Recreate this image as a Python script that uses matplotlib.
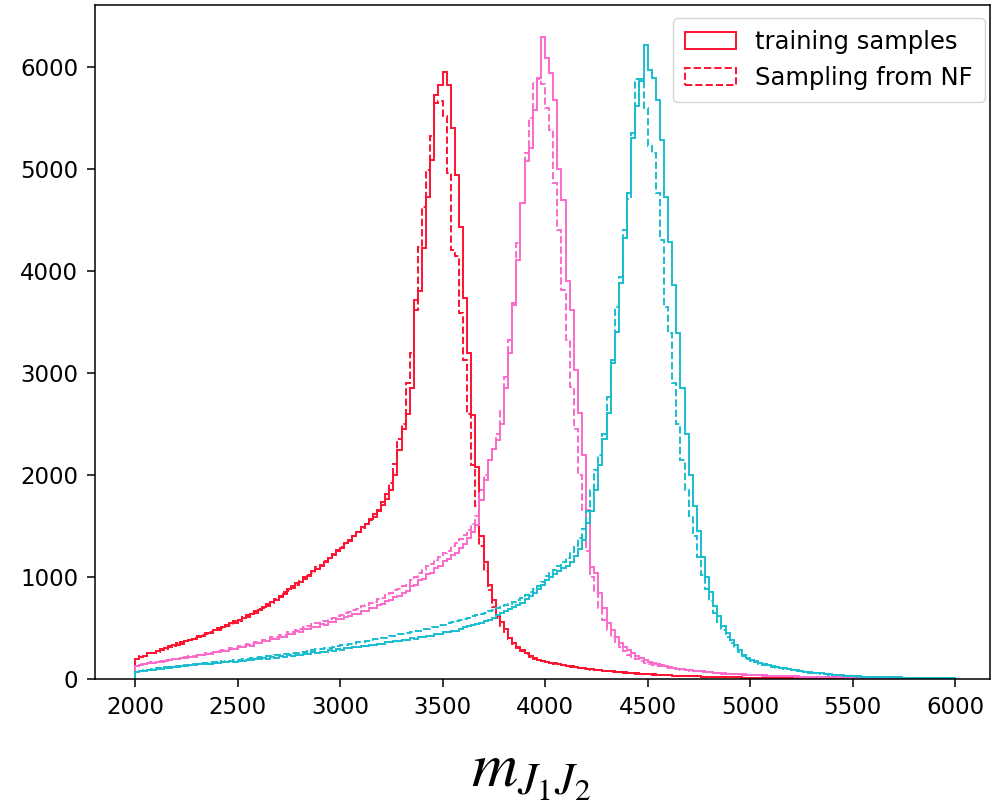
import numpy as np
import matplotlib
matplotlib.use("Agg")
import matplotlib.pyplot as plt

# Histogram binning: 200 bins of width 20 between 2000 and 6000
bin_lo, bin_hi, n_bins = 2000, 6000, 200

# Counts per bin, mass point at 3500
red_train = [
    200, 218, 230, 252, 255, 276, 285, 305, 309, 336,
    334, 361, 368, 384, 396, 418, 424, 448, 452, 481,
    484, 512, 515, 548, 549, 580, 594, 628, 633, 667,
    674, 708, 719, 757, 772, 818, 832, 878, 893, 937,
    952, 998, 1006, 1055, 1077, 1114, 1146, 1184, 1216, 1264,
    1285, 1335, 1355, 1405, 1436, 1485, 1516, 1568, 1592, 1650,
    1702, 1761, 1852, 2003, 2248, 2452, 2601, 2853, 3716, 3802,
    4225, 4728, 5088, 5725, 5823, 5948, 5823, 5400, 4941, 4434,
    3735, 3196, 2588, 2082, 1402, 1150, 921, 778, 622, 561,
    489, 402, 351, 309, 281, 252, 224, 206, 191, 179,
    170, 161, 154, 149, 141, 131, 124, 118, 112, 106,
    100, 95, 91, 86, 82, 78, 75, 71, 68, 65,
    62, 58, 55, 52, 50, 47, 45, 42, 40, 38,
    36, 34, 32, 30, 29, 27, 26, 25, 24, 22,
    21, 20, 19, 18, 17, 16, 15, 15, 14, 13,
    13, 12, 12, 11, 11, 10, 10, 9, 9, 9,
    8, 8, 8, 7, 7, 7, 6, 6, 6, 6,
    5, 5, 5, 5, 4, 4, 4, 4, 4, 3,
    3, 3, 3, 3, 3, 3, 2, 2, 2, 2,
    2, 2, 2, 2, 2, 2, 1, 1, 1, 1,
]
red_nf = [
    195, 226, 224, 256, 258, 264, 296, 294, 322, 320,
    350, 348, 374, 380, 401, 412, 431, 442, 460, 476,
    497, 498, 530, 533, 564, 566, 608, 612, 650, 651,
    690, 692, 735, 741, 788, 802, 849, 862, 911, 920,
    969, 982, 1024, 1038, 1095, 1107, 1152, 1178, 1223, 1258,
    1292, 1326, 1363, 1398, 1442, 1478, 1524, 1560, 1616, 1656,
    1730, 1812, 1925, 2110, 2350, 2500, 2900, 3196, 3618, 4238,
    4630, 4990, 5317, 5647, 5660, 5513, 4960, 4206, 4150, 3588,
    3127, 2600, 2100, 1700, 1300, 1060, 870, 705, 598, 520,
    455, 392, 340, 302, 270, 246, 220, 200, 186, 174,
    164, 156, 150, 143, 136, 127, 120, 114, 108, 102,
    97, 92, 88, 84, 80, 76, 72, 69, 66, 63,
    60, 56, 54, 50, 48, 46, 43, 41, 39, 37,
    35, 33, 31, 30, 28, 26, 25, 24, 23, 21,
    20, 19, 18, 17, 16, 16, 15, 14, 13, 13,
    12, 12, 11, 11, 10, 10, 9, 9, 9, 8,
    8, 8, 7, 7, 7, 6, 6, 6, 6, 5,
    5, 5, 5, 4, 4, 4, 4, 4, 3, 3,
    3, 3, 3, 3, 3, 2, 2, 2, 2, 2,
    2, 2, 2, 2, 2, 1, 1, 1, 1, 1,
]

# Mass point at 4000
pink_train = [
    132, 141, 146, 159, 155, 169, 168, 181, 183, 192,
    193, 205, 204, 220, 217, 233, 232, 248, 247, 263,
    262, 279, 276, 294, 291, 311, 309, 331, 328, 351,
    349, 371, 369, 396, 394, 416, 414, 441, 439, 466,
    464, 487, 489, 511, 514, 536, 534, 561, 559, 586,
    584, 611, 614, 636, 639, 666, 669, 696, 699, 727,
    734, 766, 774, 806, 813, 847, 863, 907, 923, 966,
    983, 1027, 1043, 1087, 1103, 1157, 1173, 1217, 1233, 1287,
    1328, 1382, 1438, 1512, 1750, 1950, 2147, 2250, 2343, 2500,
    2853, 3196, 3667, 4108, 4667, 5072, 5200, 5578, 5889, 6291,
    6085, 5938, 5676, 5000, 4696, 3900, 3618, 3030, 2608, 2200,
    1657, 1100, 1040, 843, 700, 549, 480, 412, 353, 310,
    284, 255, 230, 205, 186, 170, 155, 145, 135, 125,
    118, 110, 103, 97, 92, 87, 82, 78, 74, 70,
    66, 63, 60, 57, 54, 51, 49, 47, 45, 43,
    41, 39, 37, 35, 34, 32, 31, 29, 28, 27,
    26, 25, 24, 23, 22, 21, 20, 19, 18, 18,
    17, 16, 16, 15, 14, 14, 13, 13, 12, 12,
    11, 11, 10, 10, 10, 9, 9, 9, 8, 8,
    8, 7, 7, 7, 7, 6, 6, 6, 6, 5,
]
pink_nf = [
    128, 145, 144, 162, 160, 171, 173, 184, 186, 199,
    196, 210, 211, 223, 226, 237, 240, 252, 256, 269,
    270, 284, 287, 300, 303, 319, 321, 339, 342, 361,
    364, 383, 386, 408, 413, 431, 435, 458, 463, 485,
    490, 509, 517, 537, 545, 564, 570, 593, 598, 622,
    627, 651, 659, 681, 690, 715, 724, 748, 759, 784,
    797, 826, 840, 869, 883, 913, 935, 975, 998, 1041,
    1066, 1105, 1125, 1166, 1195, 1235, 1258, 1301, 1329, 1371,
    1412, 1458, 1522, 1600, 1850, 2000, 2150, 2250, 2400, 2637,
    2960, 3320, 3686, 4275, 4667, 5157, 5500, 5850, 5880, 5830,
    5600, 5380, 4860, 4400, 3810, 3320, 2860, 2450, 2000, 1650,
    1250, 1000, 850, 700, 580, 480, 410, 360, 310, 270,
    240, 215, 195, 175, 160, 150, 140, 131, 123, 116,
    109, 103, 97, 92, 87, 83, 78, 74, 71, 67,
    63, 60, 57, 54, 52, 49, 47, 45, 43, 41,
    39, 37, 35, 34, 32, 31, 29, 28, 27, 26,
    25, 24, 23, 22, 21, 20, 19, 18, 17, 17,
    16, 15, 15, 14, 13, 13, 12, 12, 11, 11,
    11, 10, 10, 9, 9, 9, 8, 8, 8, 7,
    7, 7, 7, 6, 6, 6, 6, 5, 5, 5,
]

# Mass point at 4500
cyan_train = [
    68, 82, 83, 92, 93, 104, 101, 114, 110, 120,
    118, 127, 128, 137, 136, 144, 143, 150, 150, 159,
    154, 166, 163, 172, 170, 179, 176, 187, 184, 196,
    192, 204, 201, 214, 210, 222, 218, 232, 228, 240,
    236, 249, 246, 260, 256, 269, 266, 280, 278, 292,
    289, 302, 300, 314, 312, 324, 322, 336, 334, 348,
    346, 360, 358, 372, 371, 384, 384, 399, 396, 412,
    411, 426, 426, 442, 441, 456, 456, 472, 472, 489,
    509, 521, 529, 541, 549, 566, 579, 601, 624, 646,
    664, 686, 704, 726, 749, 781, 809, 841, 879, 921,
    969, 1001, 1029, 1061, 1089, 1112, 1149, 1201, 1279, 1362,
    1526, 1650, 1850, 2100, 2350, 2608, 3098, 3402, 3882, 4324,
    4765, 5300, 5611, 5856, 6216, 5970, 5890, 5676, 5284, 4728,
    4287, 3863, 3392, 2853, 2400, 2000, 1700, 1450, 1200, 1000,
    850, 720, 620, 520, 450, 380, 330, 280, 240, 210,
    190, 175, 160, 145, 135, 125, 118, 110, 105, 100,
    90, 85, 78, 72, 66, 62, 58, 55, 50, 45,
    42, 38, 35, 32, 30, 28, 26, 24, 22, 21,
    20, 19, 18, 17, 16, 15, 15, 14, 13, 13,
    12, 12, 11, 11, 10, 10, 10, 9, 9, 9,
]
cyan_nf = [
    72, 80, 90, 90, 101, 100, 111, 109, 121, 118,
    130, 127, 139, 137, 147, 146, 155, 154, 164, 162,
    172, 170, 180, 178, 189, 187, 197, 196, 206, 205,
    216, 215, 226, 225, 236, 236, 247, 247, 258, 258,
    269, 269, 281, 281, 293, 293, 305, 306, 318, 319,
    332, 332, 345, 346, 359, 360, 374, 375, 389, 390,
    404, 406, 420, 422, 437, 439, 454, 457, 472, 475,
    490, 494, 509, 513, 529, 533, 549, 554, 571, 576,
    590, 602, 614, 626, 638, 651, 664, 678, 692, 706,
    722, 739, 757, 776, 797, 822, 850, 880, 912, 948,
    1005, 1040, 1072, 1110, 1150, 1190, 1240, 1300, 1380, 1470,
    1650, 1850, 2050, 2200, 2400, 2768, 3127, 3650, 3944, 4400,
    4700, 5350, 5880, 5880, 5600, 5219, 5150, 4765, 4304, 3650,
    3392, 2900, 2500, 2150, 1850, 1600, 1400, 1200, 1020, 880,
    760, 650, 560, 480, 410, 350, 300, 260, 225, 200,
    180, 165, 152, 140, 130, 120, 112, 105, 99, 94,
    86, 80, 74, 68, 63, 59, 55, 51, 47, 43,
    40, 36, 33, 30, 28, 26, 24, 23, 21, 20,
    19, 18, 17, 16, 15, 14, 14, 13, 12, 12,
    11, 11, 10, 10, 10, 9, 9, 9, 8, 8,
]

series = [
    ("#ff1230", red_train, red_nf),
    ("#fb6acb", pink_train, pink_nf),
    ("#17becf", cyan_train, cyan_nf),
]

plt.rcParams["mathtext.fontset"] = "stix"

edges = np.linspace(bin_lo, bin_hi, n_bins + 1)
centers = 0.5 * (edges[:-1] + edges[1:])

fig = plt.figure(figsize=(9.92, 8.10), dpi=100)
ax = fig.add_axes([0.0958, 0.1617, 0.9022, 0.8321])

for k, (color, train, nf) in enumerate(series):
    ax.hist(centers, bins=edges, weights=train, histtype="step",
            color=color, lw=1.4, linestyle="-",
            label="training samples" if k == 0 else None)
    ax.hist(centers, bins=edges, weights=nf, histtype="step",
            color=color, lw=1.4, linestyle="--",
            label="Sampling from NF" if k == 0 else None)

ax.set_xlim(1805, 6170)
ax.set_ylim(0, 6605)
ax.set_xticks(np.arange(2000, 6001, 500))
ax.set_yticks(np.arange(0, 6001, 1000))
ax.tick_params(labelsize=16.5, length=6, width=1.1, pad=6)
for s in ax.spines.values():
    s.set_linewidth(1.1)

ax.legend(loc="upper right", fontsize=17.5, handlelength=2.1,
          borderpad=0.5, labelspacing=0.5, handletextpad=0.8,
          bbox_to_anchor=(0.993, 0.978), bbox_transform=fig.transFigure,
          borderaxespad=0.0)

fig.text(0.535, 0.047, r"$m_{J_1J_2}$", fontsize=46, ha="center", va="center")

fig.savefig("out.png", dpi=100)
